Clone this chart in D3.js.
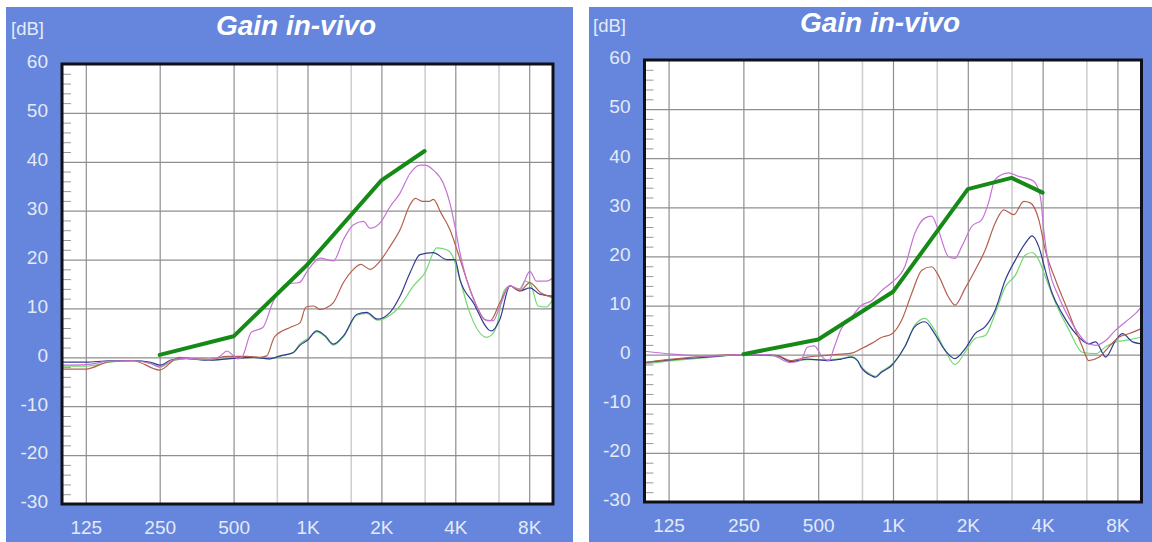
<!DOCTYPE html>
<html><head><meta charset="utf-8">
<script src="https://cdn.jsdelivr.net/npm/d3@7"></script>
<style>
body{margin:0;background:#fff}
svg{display:block}
text{font-family:"Liberation Sans",Arial,Helvetica,sans-serif}
</style>
</head><body>
<svg id="c" width="1152" height="542"></svg>
<script>
// ---------- tick / label data ----------
const xTicks = [125, 250, 500, 1000, 2000, 4000, 8000];
const xTickLabels = ["125", "250", "500", "1K", "2K", "4K", "8K"];
const xMinorGrid = [750, 1500, 3000, 6000];
const yTicks = [-30, -20, -10, 0, 10, 20, 30, 40, 50, 60];
const yTickLabels = ["-30", "-20", "-10", "0", "10", "20", "30", "40", "50", "60"];
const titleText = "Gain in-vivo";
const unitText = "[dB]";

// ---------- left panel series [Hz, dB] ----------
const leftTarget = [[250,0.5],[500,4.3],[1000,19],[2000,36.2],[3000,42.2]];
const leftMagenta = [[100,-1.6],[125,-1.5],[156,-0.8],[195,-0.7],[230,-1.3],[250,-2.0],[280,-0.6],[320,-0.2],[400,-0.5],[440,0.2],[470,1.3],[500,0.3],[520,-0.3],[540,0.0],[590,5.1],[658,6.1],[722,11.2],[818,15.0],[927,15.3],[1000,17.7],[1126,20.3],[1275,19.7],[1401,24.1],[1539,27.1],[1690,27.8],[1799,26.4],[1975,27.5],[2169,30.8],[2382,33.6],[2616,37.6],[2873,39.3],[3010,39.3],[3255,38.3],[3575,35.6],[3805,31.5],[3987,26.8],[4178,21.4],[4447,15.9],[4884,10.5],[5364,7.5],[5711,7.5],[6079,10.5],[6676,14.6],[7331,13.9],[8050,17.6],[8568,15.6],[9410,15.6],[10000,16.3]];
const leftBrown = [[100,-2.4],[125,-2.4],[156,-0.9],[195,-0.7],[250,-2.6],[300,0.0],[340,-0.3],[400,-0.4],[470,0.2],[565,0.2],[640,0.0],[682,0.3],[734,4.2],[857,6.2],[933,7.1],[985,10.3],[1060,10.5],[1126,9.8],[1200,10.2],[1275,11.2],[1401,15.3],[1539,18.0],[1650,19.0],[1799,18.0],[1975,19.7],[2169,22.7],[2382,26.1],[2616,31.2],[2750,32.5],[2950,31.9],[3130,31.9],[3255,32.3],[3500,29.5],[3805,26.1],[4100,21.4],[4450,15.9],[4884,10.5],[5250,7.8],[5550,7.5],[6079,11.2],[6676,14.6],[7331,13.6],[8050,15.3],[8900,13.2],[9600,12.5],[10000,12.2]];
const leftBlue = [[100,-1.0],[125,-1.0],[156,-0.7],[195,-0.7],[230,-1.0],[250,-1.6],[280,-0.5],[320,-0.2],[400,-0.6],[500,-0.2],[600,0.0],[700,-0.3],[773,0.3],[876,1.0],[933,2.5],[1000,3.5],[1091,5.4],[1180,4.4],[1275,2.7],[1401,4.4],[1590,8.8],[1744,9.2],[1927,7.8],[2169,9.2],[2382,12.5],[2616,17.3],[2873,21.0],[3255,21.4],[3694,20.0],[3987,20.0],[4178,15.9],[4734,11.2],[5602,5.4],[6079,7.8],[6676,14.6],[7331,13.6],[8050,14.2],[8840,12.9],[10000,12.5]];
const leftGreen = [[100,-1.8],[125,-1.8],[156,-1.0],[195,-0.7],[230,-1.2],[250,-2.0],[280,-0.8],[320,-0.3],[400,-0.6],[500,-0.2],[600,0.0],[700,-0.3],[773,0.2],[876,1.0],[933,2.8],[1000,3.8],[1091,5.2],[1180,4.2],[1275,2.5],[1401,4.2],[1590,8.6],[1744,9.0],[1927,7.6],[2169,8.6],[2382,10.5],[2700,14.6],[3010,17.3],[3363,22.4],[3694,22.0],[3900,20.7],[4150,16.5],[4550,9.5],[5364,4.1],[5600,4.5],[5900,6.5],[6300,13.5],[6700,14.6],[7300,14.0],[7700,15.6],[8100,15.0],[8700,10.5],[9400,10.3],[10000,11.9]];

// ---------- right panel series [Hz, dB] ----------
const rightTarget = [[250,0.1],[500,3.1],[1000,12.8],[2000,33.7],[3000,36.0],[4000,33.0]];
const rightMagenta = [[100,0.7],[130,0.1],[178,-0.3],[250,0],[321,0],[342,-0.5],[386,-1.6],[425,-1.2],[452,1.5],[482,1.8],[520,-0.5],[552,-1.2],[580,1.5],[618,5.2],[680,7.6],[745,10.0],[820,11.0],[898,13.0],[988,14.7],[1115,17.9],[1224,24.7],[1343,27.8],[1429,28.2],[1521,25.4],[1670,20.0],[1775,19.6],[1890,22.0],[2073,26.1],[2277,27.5],[2422,30.9],[2578,35.7],[2918,37.0],[3201,36.3],[3406,36.0],[3683,35.3],[3916,32.2],[4050,25.0],[4236,17.9],[4647,11.8],[5268,6.3],[5965,2.6],[6542,1.9],[7178,2.9],[7868,5.0],[8630,6.7],[9466,8.4],[10000,9.8]];
const rightBrown = [[100,-1.6],[130,-0.9],[178,-0.3],[250,0],[342,-0.2],[386,-1.2],[452,-0.5],[520,-0.2],[618,0.1],[680,0.3],[745,1.2],[820,2.3],[898,3.5],[988,4.2],[1083,7.0],[1190,12.5],[1306,17.2],[1429,17.9],[1521,16.2],[1670,11.8],[1775,10.1],[1950,13.5],[2140,17.2],[2350,21.3],[2578,26.8],[2790,29.5],[3060,28.5],[3360,31.2],[3570,30.9],[3860,27.5],[4100,21.3],[4510,15.2],[5110,8.4],[5780,1.6],[6130,-1.2],[6760,-0.5],[7390,1.6],[8140,3.6],[8930,4.3],[10000,5.3]];
const rightBlue = [[100,-1.6],[130,-1.0],[178,-0.5],[250,0],[342,-0.2],[386,-1.4],[452,-0.9],[552,-1.2],[618,-0.9],[680,-0.5],[720,-1.2],[745,-2.6],[820,-4.3],[850,-4.6],[898,-3.6],[988,-2.2],[1115,1.6],[1224,5.7],[1343,6.7],[1470,4.3],[1620,0.9],[1775,-0.8],[1950,1.2],[2140,4.3],[2350,5.7],[2578,9.1],[2830,15.2],[3110,19.3],[3410,22.7],[3630,24.2],[3860,22.0],[4100,17.2],[4370,12.5],[4790,8.4],[5430,4.3],[6130,2.2],[6540,2.6],[7180,-0.5],[7870,2.9],[8400,4.3],[9200,2.6],[10000,2.2]];
const rightGreen = [[100,-1.9],[130,-1.2],[178,-0.6],[250,0],[342,-0.3],[386,-1.3],[452,-1.0],[552,-1.0],[618,-0.8],[680,-0.4],[720,-1.2],[745,-2.4],[820,-4.1],[850,-4.4],[898,-3.4],[988,-2.0],[1115,1.6],[1224,6.0],[1343,7.4],[1470,5.0],[1620,0.9],[1775,-2.0],[1950,0.5],[2140,3.3],[2350,3.9],[2578,8.4],[2830,13.8],[3110,16.2],[3410,20.3],[3630,20.8],[3860,19.3],[4100,15.9],[4510,10.5],[5110,5.0],[5780,0.5],[6540,0.2],[7180,1.6],[7870,2.6],[8630,2.9],[10000,3.6]];

// ---------- drawing ----------
const svg = d3.select("#c");
const BLUE = "#6586dc";
const LABEL = "#e4eaf7";
const styles = {
  target: {stroke: "#168a16", width: 4},
  magenta: {stroke: "#c572d6", width: 1.2},
  brown: {stroke: "#b45f4e", width: 1.2},
  blue: {stroke: "#323c92", width: 1.2},
  green: {stroke: "#72d872", width: 1.2}
};

const panels = [
  {id: "L", bx: 6, by: 7, bw: 567, bh: 535, x0: 62, x1: 553, y0: 64, y1: 504, titleX: 296, titleY: 35, unitX: 11, unitY: 35,
   series: {magenta: leftMagenta, brown: leftBrown, blue: leftBlue, green: leftGreen, target: leftTarget}},
  {id: "R", bx: 589, by: 7, bw: 563, bh: 535, x0: 644.5, x1: 1141.5, y0: 60, y1: 502, titleX: 880, titleY: 32, unitX: 593, unitY: 32,
   series: {magenta: rightMagenta, brown: rightBrown, blue: rightBlue, green: rightGreen, target: rightTarget}}
];

panels.forEach(p => {
  const g = svg.append("g");
  g.append("rect").attr("x", p.bx).attr("y", p.by).attr("width", p.bw).attr("height", p.bh).attr("fill", BLUE);

  const x = d3.scaleLog().domain([100, 10000]).range([p.x0, p.x1]);
  const y = d3.scaleLinear().domain([-30, 60]).range([p.y1, p.y0]);
  const h = p.y1 - p.y0, w = p.x1 - p.x0;

  g.append("rect").attr("x", p.x0).attr("y", p.y0).attr("width", w).attr("height", h).attr("fill", "#fff");

  // minor vertical grid
  const gm = g.append("g").attr("transform", `translate(0,${p.y1})`)
    .call(d3.axisBottom(x).tickValues(xMinorGrid).tickSize(-h).tickFormat(""));
  gm.select(".domain").remove();
  gm.selectAll("line").attr("stroke", "#cfcfcf").attr("stroke-width", 1.6);

  // major vertical grid
  const gv = g.append("g").attr("transform", `translate(0,${p.y1})`)
    .call(d3.axisBottom(x).tickValues(xTicks).tickSize(-h).tickFormat(""));
  gv.select(".domain").remove();
  gv.selectAll("line").attr("stroke", "#8f8f8f").attr("stroke-width", 1.2);

  // horizontal grid
  const gh = g.append("g").attr("transform", `translate(${p.x0},0)`)
    .call(d3.axisLeft(y).tickValues(yTicks.filter(v => v > -30 && v < 60)).tickSize(-w).tickFormat(""));
  gh.select(".domain").remove();
  gh.selectAll("line").attr("stroke", "#8f8f8f").attr("stroke-width", 1.3);

  // minor y ticks (every 2 dB) inside left edge
  const minorY = d3.range(-28, 60, 2).filter(v => v % 10 !== 0);
  const gt = g.append("g").attr("transform", `translate(${p.x0},0)`)
    .call(d3.axisRight(y).tickValues(minorY).tickSize(9).tickFormat(""));
  gt.select(".domain").remove();
  gt.selectAll("line").attr("stroke", "#999").attr("stroke-width", 1);

  // clip
  g.append("clipPath").attr("id", "clip" + p.id).append("rect")
    .attr("x", p.x0).attr("y", p.y0).attr("width", w).attr("height", h);

  const line = d3.line().x(d => x(d[0])).y(d => y(d[1])).curve(d3.curveMonotoneX);
  const lineT = d3.line().x(d => x(d[0])).y(d => y(d[1]));
  const cg = g.append("g").attr("clip-path", `url(#clip${p.id})`);
  ["green", "blue", "brown", "magenta"].forEach(k => {
    cg.append("path").datum(p.series[k]).attr("d", line).attr("fill", "none")
      .attr("stroke", styles[k].stroke).attr("stroke-width", styles[k].width)
      .attr("stroke-linejoin", "round");
  });
  cg.append("path").datum(p.series.target).attr("d", lineT).attr("fill", "none")
    .attr("stroke", styles.target.stroke).attr("stroke-width", styles.target.width)
    .attr("stroke-linejoin", "round").attr("stroke-linecap", "round");

  // frame
  g.append("rect").attr("x", p.x0).attr("y", p.y0).attr("width", w).attr("height", h)
    .attr("fill", "none").attr("stroke", "#101018").attr("stroke-width", 3);

  // y labels
  const ya = g.append("g").attr("transform", `translate(${p.x0},0)`)
    .call(d3.axisLeft(y).tickValues(yTicks).tickFormat((d, i) => yTickLabels[i]).tickSize(0).tickPadding(14));
  ya.select(".domain").remove();
  ya.selectAll("text").attr("fill", LABEL).attr("font-size", 19).attr("dy", "0.2em")
    .style("font-family", '"Liberation Sans", Arial, sans-serif');

  // x labels
  const xa = g.append("g").attr("transform", `translate(0,${p.y1})`)
    .call(d3.axisBottom(x).tickValues(xTicks).tickFormat((d, i) => xTickLabels[i]).tickSize(0).tickPadding(17));
  xa.select(".domain").remove();
  xa.selectAll("text").attr("fill", LABEL).attr("font-size", 19)
    .style("font-family", '"Liberation Sans", Arial, sans-serif');

  // title
  g.append("text").attr("x", p.titleX).attr("y", p.titleY).attr("text-anchor", "middle")
    .attr("fill", "#fff").attr("font-size", 28).attr("font-weight", "bold").attr("font-style", "italic")
    .text(titleText);
  g.append("text").attr("x", p.unitX).attr("y", p.unitY).attr("fill", LABEL)
    .attr("font-size", 18.5).text(unitText);
});
</script>
</body></html>
